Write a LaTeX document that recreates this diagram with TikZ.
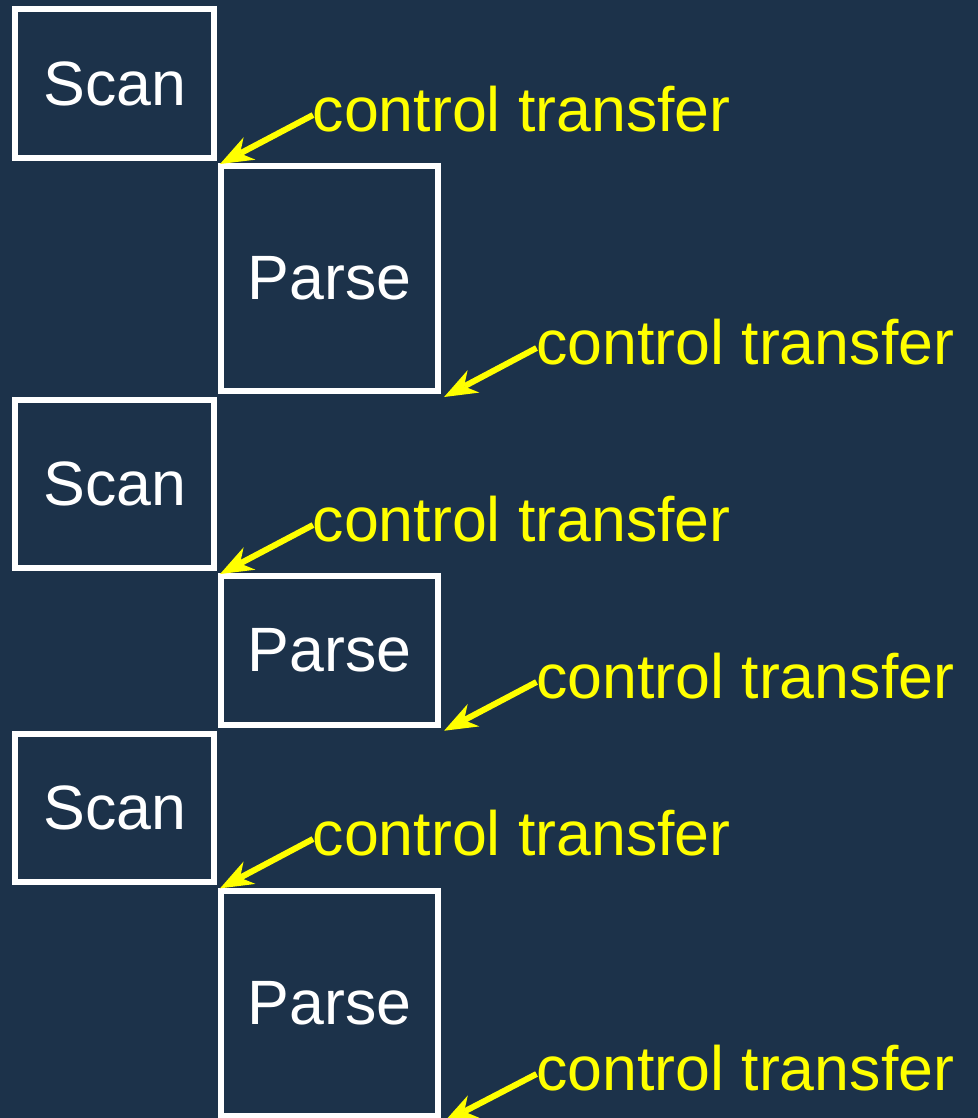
\documentclass[tikz,border=0pt]{standalone}
\usepackage{fontspec}
\setmainfont{Liberation Sans}
\usetikzlibrary{arrows.meta}
\definecolor{bg}{RGB}{28,50,74}
\definecolor{yel}{RGB}{255,255,0}
\begin{document}
\begin{tikzpicture}[x=0.75pt,y=-0.75pt,
  box/.style={draw=white,line width=4.5pt,text=white,inner sep=0pt,
    font=\fontsize{47pt}{56pt}\selectfont},
  scanbox/.style={box,minimum width=149pt},
  parsebox/.style={box,minimum width=163pt},
  lbl/.style={text=yel,inner sep=0pt,anchor=base west,
    font=\fontsize{47pt}{56pt}\selectfont},
  arr/.style={draw=yel,line width=4.5pt,
    -{Stealth[length=25pt,width=19pt,inset=8pt,line width=0pt]}}]
\useasboundingbox (0,0) rectangle (978,1118);
\fill[bg] (0,0) rectangle (978,1118);
% boxes
\node[scanbox,minimum height=111.75pt]  (s1) at (114.7,83.5)  {Scan};
\node[parsebox,minimum height=168.75pt] (p1) at (329.4,278.5) {Parse};
\node[scanbox,minimum height=126.2pt]   (s2) at (114.7,483.9) {Scan};
\node[parsebox,minimum height=111.5pt]  (p2) at (329.4,650.4) {Parse};
\node[scanbox,minimum height=111.5pt]   (s3) at (114.7,808)   {Scan};
\node[parsebox,minimum height=168.75pt] (p3) at (329.4,1003.5) {Parse};
% labels
\node[lbl] (l1) at (312.5,131)  {control transfer};
\node[lbl] (l2) at (536,364)    {control transfer};
\node[lbl] (l3) at (312.5,541)  {control transfer};
\node[lbl] (l4) at (536,698)    {control transfer};
\node[lbl] (l5) at (312.5,855)  {control transfer};
\node[lbl] (l6) at (536,1090)   {control transfer};
% arrows
\draw[arr] ([shift={(0.4pt,12pt)}]l1.base west) -- ([shift={(2.25pt,-2.25pt)}]s1.south east);
\draw[arr] ([shift={(0.4pt,12pt)}]l2.base west) -- ([shift={(2.25pt,-2.25pt)}]p1.south east);
\draw[arr] ([shift={(0.4pt,12pt)}]l3.base west) -- ([shift={(2.25pt,-2.25pt)}]s2.south east);
\draw[arr] ([shift={(0.4pt,12pt)}]l4.base west) -- ([shift={(2.25pt,-2.25pt)}]p2.south east);
\draw[arr] ([shift={(0.4pt,12pt)}]l5.base west) -- ([shift={(2.25pt,-2.25pt)}]s3.south east);
\draw[arr] ([shift={(0.4pt,12pt)}]l6.base west) -- ([shift={(2.25pt,-2.25pt)}]p3.south east);
\end{tikzpicture}
\end{document}
